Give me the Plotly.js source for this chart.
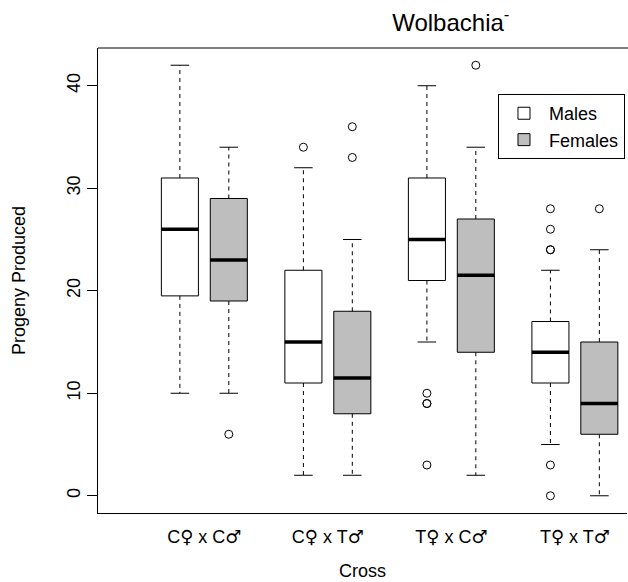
<!DOCTYPE html>
<html>
<head>
<meta charset="utf-8">
<script src="https://cdn.plot.ly/plotly-3.0.1.min.js"></script>
<style>html,body{margin:0;padding:0;background:#fff;overflow:hidden;}</style>
</head>
<body>
<div id="chart" style="width:628px;height:582px;"></div>
<script>
// ---- data ----
const categories = ["C\u2640 x C\u2642", "C\u2640 x T\u2642", "T\u2640 x C\u2642", "T\u2640 x T\u2642"];

const malesLower  = [10, 2, 15, 5];
const malesQ1     = [19.5, 11, 21, 11];
const malesMedian = [26, 15, 25, 14];
const malesQ3     = [31, 22, 31, 17];
const malesUpper  = [42, 32, 40, 22];
const malesOutliers = [[], [34], [10, 9, 9, 3], [28, 26, 24, 24, 3, 0]];

const femalesLower  = [10, 2, 2, 0];
const femalesQ1     = [19, 8, 14, 6];
const femalesMedian = [23, 11.5, 21.5, 9];
const femalesQ3     = [29, 18, 27, 15];
const femalesUpper  = [34, 25, 34, 24];
const femalesOutliers = [[6], [36, 33], [42], [28]];

// ---- layout helpers ----
const OFFSET = 0.198;   // half distance between paired boxes (category units)
const BOXW = 0.30;      // box width (category units)
const STAPLE = BOXW * 0.25;

// draw the sex symbols with a font whose glyphs are full-size
const tickText = categories.map(c =>
  c.replace(/([\u2640\u2642])/g, '<span style="font-family:\'DejaVu Sans\'">$1</span>'));

function series(name, fill, off, lower, q1, med, q3, upper, outl) {
  const xs = categories.map((c, i) => i + off);
  const traces = [];
  traces.push({
    type: 'box', name: name, x: xs,
    q1: q1, median: med, q3: q3,
    lowerfence: q1, upperfence: q3,
    width: BOXW, whiskerwidth: 0,
    fillcolor: fill, line: {color: 'black', width: 1},
    boxpoints: false, hoverinfo: 'skip', showlegend: true
  });
  const wx = [], wy = [];
  const sx = [], sy = [];
  const mx = [], my = [];
  xs.forEach((x, i) => {
    wx.push(x, x, null, x, x, null);
    wy.push(q3[i], upper[i], null, q1[i], lower[i], null);
    sx.push(x - STAPLE, x + STAPLE, null, x - STAPLE, x + STAPLE, null);
    sy.push(upper[i], upper[i], null, lower[i], lower[i], null);
    mx.push(x - BOXW / 2, x + BOXW / 2, null);
    my.push(med[i], med[i], null);
  });
  traces.push({type: 'scatter', mode: 'lines', x: wx, y: wy,
    line: {color: 'black', width: 1, dash: '4px,4px'}, showlegend: false, hoverinfo: 'skip'});
  traces.push({type: 'scatter', mode: 'lines', x: sx, y: sy,
    line: {color: 'black', width: 1}, showlegend: false, hoverinfo: 'skip'});
  traces.push({type: 'scatter', mode: 'lines', x: mx, y: my,
    line: {color: 'black', width: 3.5}, showlegend: false, hoverinfo: 'skip'});
  const ox = [], oy = [];
  outl.forEach((arr, i) => arr.forEach(v => { ox.push(xs[i]); oy.push(v); }));
  traces.push({type: 'scatter', mode: 'markers', x: ox, y: oy,
    marker: {symbol: 'circle-open', size: 8, color: 'black', line: {width: 1, color: 'black'}},
    showlegend: false, hoverinfo: 'skip'});
  return traces;
}

const data = [].concat(
  series('Males', '#ffffff', -OFFSET, malesLower, malesQ1, malesMedian, malesQ3, malesUpper, malesOutliers),
  series('Females', '#bebebe', OFFSET, femalesLower, femalesQ1, femalesMedian, femalesQ3, femalesUpper, femalesOutliers)
);

const layout = {
  width: 628, height: 582,
  margin: {l: 98, r: 1, t: 48, b: 69, pad: 0},
  paper_bgcolor: '#ffffff', plot_bgcolor: '#ffffff',
  font: {family: 'Liberation Sans, Arial, Helvetica, sans-serif', size: 18, color: '#000'},
  title: {text: 'Wolbachia<sup>-</sup>', font: {size: 24, color: '#000'},
          xref: 'paper', x: 0.667, xanchor: 'center',
          yref: 'container', y: 0.962, yanchor: 'middle'},
  showlegend: true,
  legend: {x: 0.9962, xanchor: 'right', y: 0.901, yanchor: 'top', itemwidth: 40,
           bordercolor: '#000', borderwidth: 1, bgcolor: '#fff',
           font: {size: 18, color: '#000'}, traceorder: 'normal'},
  shapes: [{type: 'line', xref: 'paper', yref: 'paper', x0: 0, x1: 1.01, y0: 1, y1: 1,
            line: {color: '#000', width: 1}}],
  xaxis: {range: [-0.861, 3.422], tickmode: 'array', tickvals: [0, 1, 2, 3], ticktext: tickText,
          ticks: '', showline: true, mirror: false, linecolor: '#000', linewidth: 1,
          showgrid: false, zeroline: false, automargin: false, ticklabelstandoff: 7,
          tickfont: {size: 18, color: '#000'},
          title: {text: 'Cross', standoff: 18, font: {size: 18, color: '#000'}}},
  yaxis: {range: [-1.68, 43.68], tickmode: 'array', tickvals: [0, 10, 20, 30, 40],
          ticks: 'outside', ticklen: 10, tickcolor: '#000', tickwidth: 1, tickangle: -90,
          showline: true, mirror: false, linecolor: '#000', linewidth: 1,
          showgrid: false, zeroline: false, automargin: false,
          tickfont: {size: 18, color: '#000'},
          title: {text: 'Progeny Produced', standoff: 33, font: {size: 18, color: '#000'}}}
};

Plotly.newPlot('chart', data, layout, {displayModeBar: false, staticPlot: true});
</script>
</body>
</html>
